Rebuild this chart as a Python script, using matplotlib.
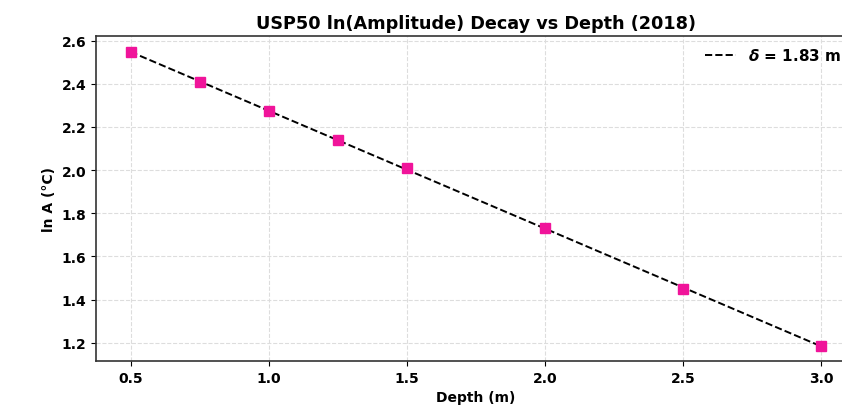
import numpy as np
import matplotlib
matplotlib.use("Agg")
from matplotlib import pyplot as plt

# -- Data ----------------------------------------------------------------------
depths = [0.5, 0.75, 1.0, 1.25, 1.5, 2.0, 2.5, 3.0]
ln_amp = [2.545, 2.41, 2.275, 2.14, 2.01, 1.73, 1.45, 1.185]
x_ticks = [0.5, 1.0, 1.5, 2.0, 2.5, 3.0]
y_ticks = [1.2, 1.4, 1.6, 1.8, 2.0, 2.2, 2.4, 2.6]
damping_depth = 1.83

# -- Linear fit of ln(A) against depth -------------------------------------------
slope, intercept = np.polyfit(depths, ln_amp, 1)
fit_x = np.array([depths[0], depths[-1]])
fit_y = slope * fit_x + intercept

fig = plt.figure(figsize=(8.42, 4.14), dpi=100)
# axes run a little past the right edge, as in the reference crop
ax = fig.add_axes([0.114, 0.126, 0.902, 0.785])

ax.plot(depths, ln_amp, "s", color="#f0149a", markersize=7.5, zorder=3)
ax.plot(fit_x, fit_y, "--", color="black", linewidth=1.4,
        label=r"$\boldsymbol{\delta}$ = %.2f m" % damping_depth, zorder=2)

ax.set_xlim(0.375, 3.125)
ax.set_ylim(1.116, 2.622)
ax.set_xticks(x_ticks)
ax.set_yticks(y_ticks)
ax.set_xticklabels([f"{v:.1f}" for v in x_ticks], fontweight="bold", fontsize=10)
ax.set_yticklabels([f"{v:.1f}" for v in y_ticks], fontweight="bold", fontsize=10)

ax.set_title("USP50 ln(Amplitude) Decay vs Depth (2018)", fontweight="bold", fontsize=12.7)
ax.set_xlabel("Depth (m)", fontweight="bold", fontsize=10)
ax.set_ylabel("ln A (°C)", fontweight="bold", fontsize=10)

ax.grid(True, linestyle="--", color="#dddddd", linewidth=0.8)
ax.set_axisbelow(True)
for sp in ax.spines.values():
    sp.set_color("#333333")
    sp.set_linewidth(1.2)

# legend sits hard against the right edge, as in the reference
ax.legend(loc="upper right", bbox_to_anchor=(0.999, 1.007), frameon=False,
          prop={"weight": "bold", "size": 11})

fig.savefig("out.png", dpi=100)
